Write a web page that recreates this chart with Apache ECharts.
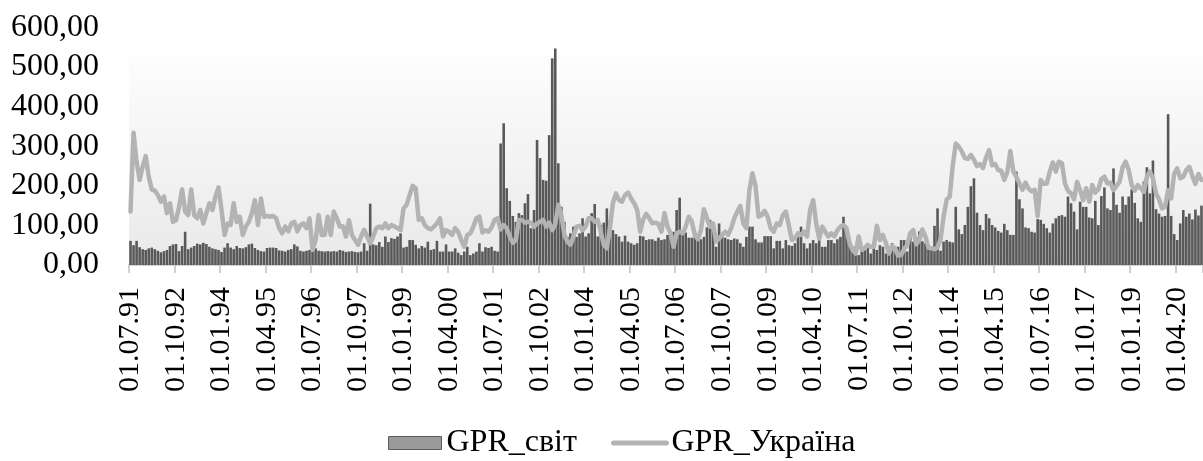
<!DOCTYPE html>
<html>
<head>
<meta charset="utf-8">
<script src="https://cdn.jsdelivr.net/npm/echarts@6/dist/echarts.min.js"></script>
<style>
html,body{margin:0;padding:0;background:#fff;}
#chart{width:1203px;height:461px;}
</style>
</head>
<body>
<div id="chart"></div>
<script>
// Monthly series starting 01.07.1991
const startYear = 1991;
const startMonth = 7;
const monthCount = 354;

const worldGPR = [
  61, 50, 61, 45, 40, 38, 42, 44, 40, 36,
  32, 35, 38, 48, 52, 53, 35, 48, 84, 40,
  44, 48, 54, 52, 56, 53, 46, 42, 40, 38,
  33, 44, 55, 44, 40, 48, 43, 42, 45, 52,
  54, 43, 38, 35, 34, 43, 44, 44, 43, 37,
  36, 34, 38, 40, 52, 47, 36, 34, 36, 38,
  34, 42, 36, 35, 34, 35, 34, 35, 34, 38,
  36, 33, 34, 35, 33, 32, 34, 55, 36, 155,
  52, 50, 58, 46, 72, 58, 68, 66, 72, 80,
  44, 46, 63, 63, 51, 42, 48, 44, 59, 38,
  40, 61, 34, 34, 52, 34, 34, 42, 31, 25,
  34, 46, 25, 29, 34, 55, 34,
  45, 43, 46, 36, 34, 307, 358, 194, 162, 124,
  109, 131, 126, 156, 179, 93, 139, 316, 270, 215,
  213, 328, 522, 547, 257, 147, 109, 71, 80, 97,
  71, 80, 118,
  72, 80, 131, 154, 72, 101, 107, 143, 114, 88,
  78, 72, 59, 74, 59, 55, 51, 55, 74, 72,
  63, 65, 65, 61, 69, 63, 65, 76, 84, 84,
  139, 170, 88, 82, 69, 69, 82, 76, 65, 71,
  95, 114, 93, 46, 105, 76, 69, 65, 63, 67,
  65, 55, 46, 71, 97, 97, 65, 57, 57, 73,
  73, 73, 42, 61, 61, 42, 63, 50, 48, 55,
  71, 97, 55, 42, 55, 63, 55, 63, 46, 46,
  63, 63, 55, 65, 71, 122, 97, 59, 46, 46,
  25, 38, 46, 50, 29, 55, 38, 50, 46, 29,
  42, 55, 34, 46, 63, 63, 34, 71, 59, 71,
  85, 60, 55, 45, 38, 99, 143, 36, 59, 63,
  59, 57, 147, 90, 78, 101, 147, 199, 219, 132,
  101, 88, 129, 118, 101, 95, 86, 82, 104, 88,
  76, 76, 236, 166, 143, 95, 93, 84, 82, 116,
  114, 104, 93, 82, 105, 118, 124, 126, 122, 173,
  156, 135,
  90, 160, 147, 147, 120, 118, 162, 101,
  174, 196, 143, 139, 244, 152, 132, 173, 152, 173,
  191, 157, 118, 109, 211, 247, 181, 264, 141, 130,
  122, 124, 381, 124, 78, 63, 105, 139, 122,
  130, 115, 140, 125, 150
];

const ukraineGPR = [
  135, 334, 261, 215, 248, 275, 223, 191, 188, 177,
  160, 173, 131, 156, 109, 113, 147, 191, 135, 126,
  191, 126, 118, 139, 105, 131, 156, 139, 173, 196,
  139, 76, 105, 101, 156, 109, 122, 76, 97, 109,
  131, 164, 101, 168, 122, 124, 122, 124, 118, 93,
  80, 97, 85, 105, 109, 85, 101, 105, 93, 118,
  38, 63, 126, 76, 76, 122, 76, 135, 118, 97,
  98, 72, 113, 76, 63, 51, 72, 89, 72, 55,
  72, 93, 97, 93, 105, 93, 101, 97, 93, 88,
  143, 152, 177, 200, 194, 114, 118, 101, 93, 90,
  97, 105, 118, 72, 88, 84, 76, 93, 84, 63,
  46, 76, 80, 97, 118, 122, 82,
  88, 84, 95, 114, 118, 90, 101, 93, 72, 56,
  63, 114, 114, 107, 109, 107, 97, 105, 109, 114,
  97, 107, 88, 103, 152, 126, 76, 59, 51, 72,
  97, 99, 88,
  97, 118, 118, 109, 114, 84, 51, 42, 93, 156,
  181, 164, 160, 177, 183, 168, 156, 139, 84, 115,
  129, 118, 105, 107, 104, 84, 131, 97, 80, 46,
  80, 84, 80, 97, 122, 110, 76, 65, 88, 141,
  118, 97, 105, 59, 67, 76, 84, 76, 93, 118,
  135, 149, 105, 93, 190, 232, 200, 122, 126, 137,
  122, 93, 84, 105, 101, 126, 135, 99, 63, 67,
  80, 76, 84, 72, 139, 164, 105, 67, 97, 84,
  72, 80, 72, 88, 97, 101, 93, 55, 38, 29,
  72, 38, 42, 51, 46, 46, 99, 63, 76, 55,
  29, 48, 42, 24, 25, 41, 50, 80, 88, 52,
  63, 90, 72, 44, 42, 40, 44, 65, 122, 165,
  172, 250, 307,
  299, 287, 270, 268, 278, 266, 250, 255, 245, 272,
  290, 252, 255, 240, 238, 215, 235, 288, 236, 222,
  206, 190, 208, 193, 186, 190, 124, 215, 205,
  206, 236, 259, 236, 261, 257, 206, 187, 181, 166,
  210, 189, 164, 194, 160, 202, 183, 191,
  217, 223, 206, 208, 189, 200, 210, 247, 261, 240,
  202, 188, 202, 194, 185, 223, 236, 219, 181, 166,
  143, 147, 189, 168, 231, 244, 219, 223, 240, 248,
  225, 205, 230, 215
];

const seriesNames = ['GPR_світ', 'GPR_Україна'];
const yMin = 0, yMax = 600, yStep = 100;
const labelEvery = 15;

// Category labels "01.MM.YY"
const categories = [];
for (let i = 0; i < monthCount; i++) {
  const m0 = startMonth - 1 + i;
  const y = startYear + Math.floor(m0 / 12);
  const m = (m0 % 12) + 1;
  categories.push('01.' + String(m).padStart(2, '0') + '.' + String(y % 100).padStart(2, '0'));
}

const FONT = "Liberation Serif";
const gridLeft = 129, gridTop = 27.5, gridHeight = 237.5, monthPx = 3.075;

const chart = echarts.init(document.getElementById('chart'), null, {renderer: 'canvas'});
chart.setOption({
  animation: false,
  backgroundColor: '#ffffff',
  textStyle: {fontFamily: FONT, color: '#000'},
  graphic: [{
    type: 'rect',
    z: -10,
    silent: true,
    shape: {x: gridLeft, y: 56, width: 1203 - gridLeft, height: gridTop + gridHeight - 56},
    style: {
      fill: new echarts.graphic.LinearGradient(0, 0, 0, 1, [
        {offset: 0, color: '#fdfdfd'},
        {offset: 1, color: '#e9e9e9'}
      ])
    }
  }],
  grid: {
    left: gridLeft,
    top: gridTop,
    width: monthCount * monthPx,
    height: gridHeight
  },
  legend: {
    data: [
      {name: seriesNames[0], icon: 'rect', itemStyle: {color: '#9a9a9a', borderColor: '#5a5a5a', borderWidth: 1}},
      {name: seriesNames[1], itemStyle: {color: 'rgba(0,0,0,0)', borderColor: 'rgba(0,0,0,0)', borderWidth: 0, opacity: 0},
       lineStyle: {color: '#b3b3b3', width: 5, opacity: 1}}
    ],
    left: 388,
    top: 427,
    itemWidth: 53,
    itemHeight: 13,
    itemGap: 34,
    padding: 0,
    textStyle: {fontFamily: FONT, fontSize: 32, color: '#000'}
  },
  xAxis: {
    type: 'category',
    data: categories,
    boundaryGap: true,
    axisLine: {show: true, lineStyle: {color: '#d3d3d3', width: 2}},
    axisTick: {show: true, interval: labelEvery - 1, length: 8, lineStyle: {color: '#d0d0d0', width: 2}},
    axisLabel: {
      interval: labelEvery - 1,
      rotate: 90,
      margin: 22,
      fontFamily: FONT,
      fontSize: 30,
      color: '#000'
    },
    splitLine: {show: false}
  },
  yAxis: {
    type: 'value',
    min: yMin,
    max: yMax,
    interval: yStep,
    axisLine: {show: false},
    axisTick: {show: false},
    splitLine: {show: false},
    axisLabel: {
      margin: 30,
      fontFamily: FONT,
      fontSize: 32,
      color: '#000',
      formatter: v => v.toFixed(2).replace('.', ',')
    }
  },
  series: [
    {
      name: seriesNames[0],
      type: 'bar',
      data: worldGPR,
      barCategoryGap: '14%',
      itemStyle: {color: '#595959'},
      z: 2
    },
    {
      name: seriesNames[1],
      type: 'line',
      data: ukraineGPR,
      symbol: 'none',
      lineStyle: {color: '#b3b3b3', width: 4.5, join: 'round', cap: 'round'},
      itemStyle: {color: '#b3b3b3'},
      z: 3
    }
  ]
});
</script>
</body>
</html>
